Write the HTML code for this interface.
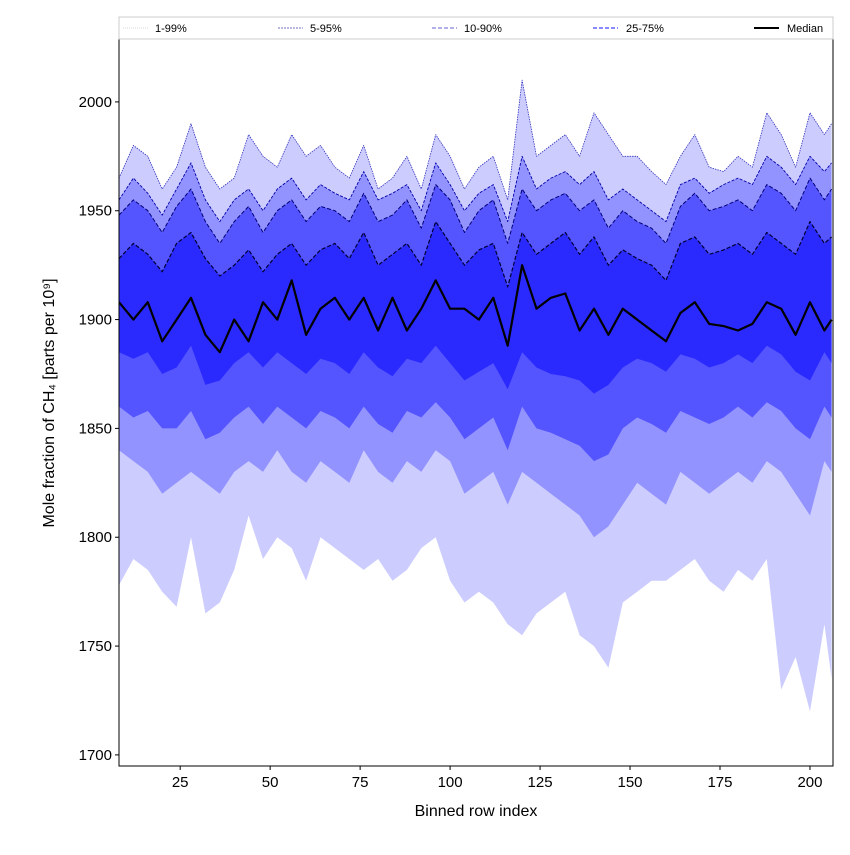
<!DOCTYPE html>
<html><head><meta charset="utf-8"><style>
body{margin:0;background:#fff;font-family:"Liberation Sans",sans-serif}
svg text{font-family:"Liberation Sans",sans-serif}
</style></head><body>
<svg id="chart" width="850" height="850" viewBox="0 0 850 850">
<rect width="850" height="850" fill="#fff"/>
<g id="plot"></g>
<g id="axes"></g>
<g id="legend">
<rect x="119" y="17" width="714" height="22" fill="#fff" stroke="#ccc" stroke-width="1"/>
<g><line x1="123" y1="28" x2="148" y2="28" stroke="#ccc" stroke-width="0.8" stroke-dasharray="1,1"/><text x="155" y="32" font-size="11">1-99%</text></g>
<g><line x1="278" y1="28" x2="303" y2="28" stroke="#4444aa" stroke-width="0.8" stroke-dasharray="2,1"/><text x="310" y="32" font-size="11">5-95%</text></g>
<g><line x1="432" y1="28" x2="457" y2="28" stroke="#6666cc" stroke-width="1" stroke-dasharray="4,2"/><text x="464" y="32" font-size="11">10-90%</text></g>
<g><line x1="593" y1="28" x2="618" y2="28" stroke="#4444ff" stroke-width="1.2" stroke-dasharray="4,2"/><text x="626" y="32" font-size="11">25-75%</text></g>
<g><line x1="754" y1="28" x2="779" y2="28" stroke="#000" stroke-width="2"/><text x="787" y="32" font-size="11">Median</text></g>
</g>
</svg>
<script>
const xs = [8,12,16,20,24,28,32,36,40,44,48,52,56,60,64,68,72,76,80,84,88,92,96,100,104,108,112,116,120,124,128,132,136,140,144,148,152,156,160,164,168,172,176,180,184,188,192,196,200,204,206];
const p1  = [1778,1790,1785,1775,1768,1800,1765,1770,1785,1810,1790,1800,1795,1780,1800,1795,1790,1785,1790,1780,1785,1795,1800,1780,1770,1775,1770,1760,1755,1765,1770,1775,1755,1750,1740,1770,1775,1780,1780,1785,1790,1780,1775,1785,1780,1790,1730,1745,1720,1760,1735];
const p5  = [1840,1835,1830,1820,1825,1830,1825,1820,1830,1835,1830,1840,1830,1825,1835,1830,1825,1840,1830,1825,1835,1830,1840,1835,1820,1825,1830,1815,1830,1825,1820,1815,1810,1800,1805,1815,1825,1820,1815,1830,1825,1820,1825,1830,1825,1835,1830,1820,1810,1835,1830];
const p10 = [1860,1855,1858,1850,1850,1858,1845,1848,1855,1860,1852,1860,1855,1850,1858,1855,1850,1860,1852,1848,1858,1855,1862,1855,1845,1850,1855,1840,1860,1850,1848,1845,1842,1835,1838,1850,1855,1852,1848,1858,1855,1852,1855,1860,1855,1862,1858,1850,1845,1860,1855];
const p25 = [1885,1882,1885,1875,1878,1888,1870,1872,1880,1885,1878,1885,1880,1875,1882,1880,1875,1885,1878,1874,1882,1880,1888,1880,1872,1876,1880,1868,1885,1878,1875,1874,1872,1866,1870,1878,1882,1880,1876,1884,1882,1878,1880,1884,1880,1888,1884,1876,1872,1885,1880];
const p50 = [1908,1900,1908,1890,1900,1910,1893,1885,1900,1890,1908,1900,1918,1893,1905,1910,1900,1910,1895,1910,1895,1905,1918,1905,1905,1900,1910,1888,1925,1905,1910,1912,1895,1905,1893,1905,1900,1895,1890,1903,1908,1898,1897,1895,1898,1908,1905,1893,1908,1895,1900];
const p75 = [1928,1935,1930,1922,1935,1940,1928,1920,1925,1932,1922,1930,1935,1925,1932,1935,1928,1940,1925,1930,1935,1925,1945,1935,1925,1932,1935,1915,1940,1930,1935,1940,1930,1938,1925,1932,1928,1925,1918,1935,1938,1930,1932,1935,1930,1940,1935,1930,1945,1935,1938];
const p90 = [1948,1955,1950,1940,1952,1960,1945,1935,1945,1952,1940,1950,1955,1945,1952,1950,1945,1958,1945,1948,1955,1942,1962,1955,1940,1950,1955,1935,1960,1950,1955,1958,1950,1955,1942,1950,1945,1942,1935,1952,1958,1950,1952,1955,1950,1962,1958,1950,1965,1955,1960];
const p95 = [1955,1965,1958,1948,1960,1972,1955,1945,1955,1960,1950,1960,1965,1955,1962,1958,1955,1968,1955,1958,1962,1950,1972,1962,1950,1958,1962,1945,1975,1960,1965,1968,1962,1968,1955,1960,1955,1950,1945,1962,1965,1958,1962,1965,1962,1975,1970,1962,1975,1968,1972];
const p99 = [1965,1980,1975,1960,1970,1990,1970,1960,1965,1985,1975,1970,1985,1975,1980,1970,1965,1980,1960,1965,1975,1960,1985,1975,1960,1970,1975,1955,2010,1975,1980,1985,1975,1995,1985,1975,1975,1968,1962,1975,1985,1970,1968,1975,1970,1995,1985,1970,1995,1985,1990];
const yTicks = [1700,1750,1800,1850,1900,1950,2000];
const xTicks = [25,50,75,100,125,150,175,200];

const L=119,R=833,T=39,B=766, XMIN=8, XMAX=206.4, YMIN=1694.9, YMAX=2028.9;
const sx = v => L + (v-XMIN)/(XMAX-XMIN)*(R-L);
const sy = v => B - (v-YMIN)/(YMAX-YMIN)*(B-T);
const NS='http://www.w3.org/2000/svg';
const plot=document.getElementById('plot'), axes=document.getElementById('axes');
function mk(tag, attrs, parent){const e=document.createElementNS(NS,tag);for(const k in attrs)e.setAttribute(k,attrs[k]);parent.appendChild(e);return e;}
function pts(arr){return arr.map((v,i)=>sx(xs[i]).toFixed(1)+','+sy(v).toFixed(1));}
function band(lo,hi,color,name){
  const d='M'+pts(hi).join(' L')+' L'+pts(lo).reverse().join(' L')+' Z';
  const e=mk('path',{d:d,fill:color,stroke:'none'},plot);
  
  
}
function line(arr,color,w,dash,name){
  const e=mk('polyline',{points:pts(arr).join(' '),fill:'none',stroke:color,'stroke-width':w,'stroke-dasharray':dash,'stroke-linejoin':'round'},plot);
  
  
}
const cp=mk('clipPath',{id:'clip'},plot); mk('rect',{x:L,y:T,width:R-L,height:B-T},cp);
plot.setAttribute('clip-path','url(#clip)');
band(p1,p99,'#ccccff','band-1-99');
band(p5,p95,'#9393ff','band-5-95');
band(p10,p90,'#5555ff','band-10-90');
band(p25,p75,'#2a2aff','band-25-75');
line(p99,'#3333bb',0.8,'1.5,1','line-p99');
line(p95,'#0000aa',0.9,'3,1.5','line-p95');
line(p90,'#000077',1,'4,2','line-p90');
line(p75,'#000033',1.2,'4,2','line-p75');
line(p50,'#000000',2.2,'none','median-line');

const fr=mk('rect',{x:L,y:T,width:R-L,height:B-T,fill:'none',stroke:'#000','stroke-width':1},axes);


yTicks.forEach(v=>{
  const y=sy(v);
  const t=mk('line',{x1:L-4,y1:y,x2:L,y2:y,stroke:'#000'},axes);
  
  
  const tx=mk('text',{x:L-7,y:y+5,'font-size':15,'text-anchor':'end'},axes);
  tx.textContent=v;
  
  
});
xTicks.forEach(v=>{
  const x=sx(v);
  const t=mk('line',{x1:x,y1:B,x2:x,y2:B+4,stroke:'#000'},axes);
  
  
  const tx=mk('text',{x:x,y:B+21,'font-size':15,'text-anchor':'middle'},axes);
  tx.textContent=v;
  
  
});
const xt=mk('text',{x:(L+R)/2,y:816,'font-size':16,'text-anchor':'middle'},axes);
xt.textContent='Binned row index';


const yt=mk('text',{x:0,y:0,'font-size':16,'text-anchor':'middle',transform:'translate(54,403) rotate(-90)'},axes);
yt.textContent='Mole fraction of CH₄ [parts per 10⁹]';


</script>
</body></html>
